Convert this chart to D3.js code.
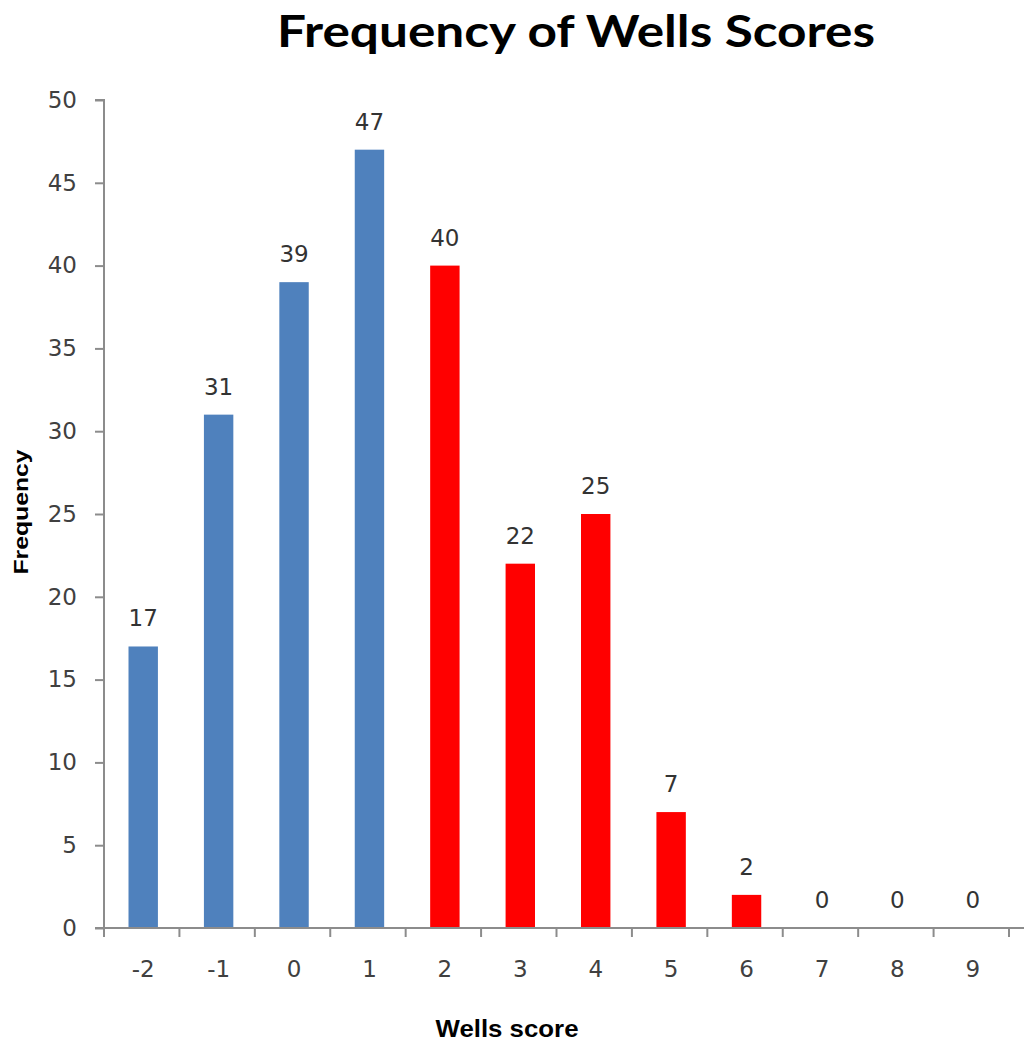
<!DOCTYPE html>
<html>
<head>
<meta charset="utf-8">
<script src="https://cdn.jsdelivr.net/npm/d3@7"></script>
<style>
  html, body { margin: 0; padding: 0; background: #fff; }
  svg { display: block; }
</style>
</head>
<body>
<svg id="chart" width="1024" height="1043"></svg>
<script>
// Wells score categories and how often each occurred
const scores = ["-2", "-1", "0", "1", "2", "3", "4", "5", "6", "7", "8", "9"];
const frequencies = [17, 31, 39, 47, 40, 22, 25, 7, 2, 0, 0, 0];
// scores below 2 are drawn blue, 2 and above red
const lowColor = "#4f81bd";
const highColor = "#ff0000";
const yTicks = [0, 5, 10, 15, 20, 25, 30, 35, 40, 45, 50];

const svg = d3.select("#chart");
const plotLeft = 104, plotRight = 1009, plotTop = 100, plotBottom = 928;

const x = d3.scaleBand().domain(scores).range([plotLeft + 1.5, plotRight + 1.5]).paddingInner(0.61).paddingOuter(0.305);
const xBounds = d3.scaleBand().domain(scores).range([plotLeft, plotRight]).padding(0);
const y = d3.scaleLinear().domain([0, 50]).range([plotBottom, plotTop]);

const axisColor = "#8c8c8c";
const textColor = "#404040";
const font = "'DejaVu Sans', sans-serif";
const tickFontSize = 23;

// Title
svg.append("text")
  .attr("x", 576).attr("y", 47)
  .attr("text-anchor", "middle")
  .attr("font-family", "Lato, 'Open Sans', sans-serif")
  .attr("font-weight", "bold")
  .attr("font-size", 43)
  .attr("fill", "#000")
  .attr("textLength", 598)
  .attr("lengthAdjust", "spacingAndGlyphs")
  .text("Frequency of Wells Scores");

const rows = scores.map((s, i) => ({ s, v: frequencies[i] }));

// Bars
svg.append("g").selectAll("rect")
  .data(rows)
  .join("rect")
  .attr("x", d => x(d.s))
  .attr("width", x.bandwidth())
  .attr("y", d => y(d.v))
  .attr("height", d => y(0) - y(d.v))
  .attr("fill", d => (+d.s >= 2 ? highColor : lowColor));

// Value labels
svg.append("g").selectAll("text")
  .data(rows)
  .join("text")
  .attr("x", d => x(d.s) + x.bandwidth() / 2)
  .attr("y", d => y(d.v) - 20)
  .attr("text-anchor", "middle")
  .attr("font-family", font)
  .attr("font-size", tickFontSize)
  .attr("fill", "#333")
  .text(d => d.v);

// Y axis
const yAxis = d3.axisLeft(y).tickValues(yTicks).tickSize(9).tickPadding(18);
const gy = svg.append("g").attr("transform", `translate(${plotLeft},0)`).call(yAxis);
gy.select(".domain").attr("stroke", axisColor).attr("stroke-width", 2).attr("d", `M-9,${plotTop}H0V${plotBottom}`);
gy.selectAll(".tick line").attr("stroke", axisColor).attr("stroke-width", 2);
gy.selectAll(".tick text").attr("font-family", font).attr("font-size", tickFontSize).attr("fill", textColor);

// X axis: ticks sit on category boundaries
const gx = svg.append("g").attr("transform", `translate(0,${plotBottom})`);
gx.append("line").attr("x1", plotLeft - 9).attr("x2", 1024).attr("y1", 0).attr("y2", 0)
  .attr("stroke", axisColor).attr("stroke-width", 2);
gx.selectAll("line.tick")
  .data(d3.range(scores.length + 1))
  .join("line")
  .attr("class", "tick")
  .attr("x1", i => plotLeft + i * xBounds.step())
  .attr("x2", i => plotLeft + i * xBounds.step())
  .attr("y1", 0).attr("y2", 9)
  .attr("stroke", axisColor).attr("stroke-width", 2);
gx.selectAll("text")
  .data(scores)
  .join("text")
  .attr("x", d => x(d) + x.bandwidth() / 2)
  .attr("y", 49)
  .attr("text-anchor", "middle")
  .attr("font-family", font)
  .attr("font-size", tickFontSize)
  .attr("fill", textColor)
  .text(d => d);

// Axis titles
svg.append("text")
  .attr("x", 507).attr("y", 1037)
  .attr("text-anchor", "middle")
  .attr("font-family", "'Liberation Sans', Arial, sans-serif")
  .attr("font-weight", "bold")
  .attr("font-size", 24)
  .attr("fill", "#000")
  .attr("textLength", 143)
  .attr("lengthAdjust", "spacingAndGlyphs")
  .text("Wells score");

svg.append("text")
  .attr("transform", "translate(28,512) rotate(-90)")
  .attr("text-anchor", "middle")
  .attr("font-family", "'Liberation Sans', Arial, sans-serif")
  .attr("font-weight", "bold")
  .attr("font-size", 20)
  .attr("fill", "#000")
  .attr("textLength", 125)
  .attr("lengthAdjust", "spacingAndGlyphs")
  .text("Frequency");
</script>
</body>
</html>
